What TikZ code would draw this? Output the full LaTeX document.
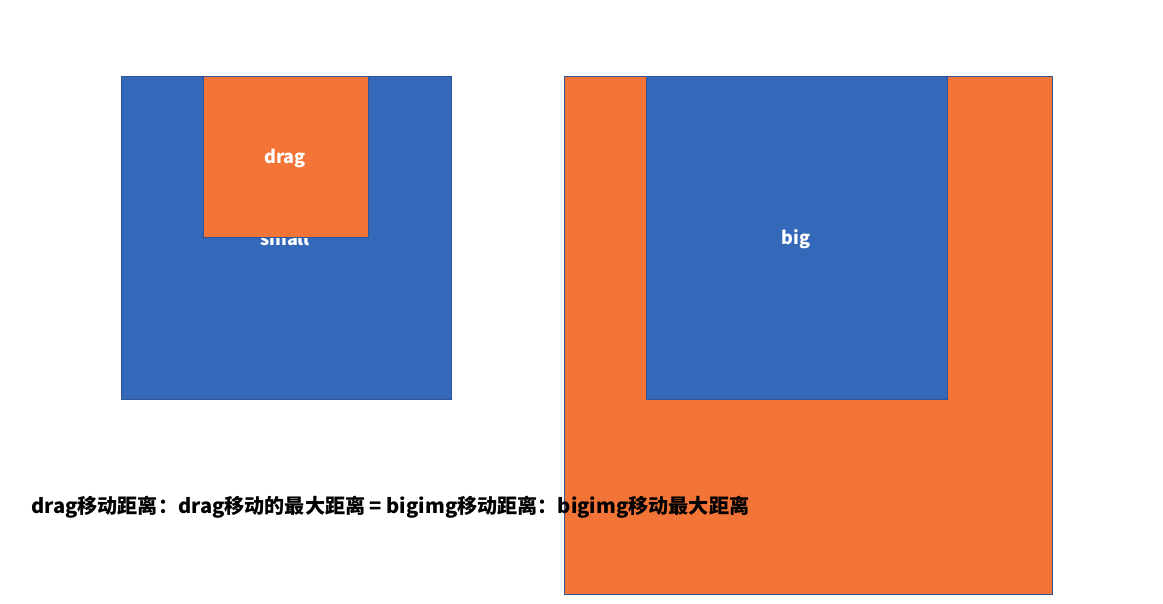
\documentclass[tikz,border=0pt]{standalone}
\usepackage{fontspec}
\newfontfamily\cjk{Noto Sans CJK SC}
\definecolor{boxblue}{HTML}{3468B9}
\definecolor{boxorange}{HTML}{F37437}
\definecolor{edgeblue}{HTML}{2F5597}
\tikzset{
  bluebox/.style={fill=boxblue, draw=edgeblue, line width=0.8pt},
  orangebox/.style={fill=boxorange, draw=edgeblue, line width=0.8pt},
  boxlabel/.style={text=white, font=\cjk\bfseries\fontsize{18}{21}\selectfont, inner sep=0pt},
  mainlabel/.style={text=black, font=\cjk\bfseries\fontsize{20.1}{24}\selectfont, inner sep=0pt, anchor=west}
}
\begin{document}
\begin{tikzpicture}[x=1pt,y=-1pt]
\useasboundingbox (0,0) rectangle (1163,603);
% left group
\path[bluebox] (121,76) rectangle (451,399);
\node[boxlabel] (small) at (285,238) {small};
\path[orangebox] (203,76) rectangle (368,237);
\node[boxlabel] (drag) at (285,158) {drag};
% right group
\path[orangebox] (564,76) rectangle (1052,594);
\path[bluebox] (646,76) rectangle (947,399);
\node[boxlabel] (big) at (796,239) {big};
% formula
\node[mainlabel] (formula) at (31,507) {drag移动距离：drag移动的最大距离 = bigimg移动距离：bigimg移动最大距离};
\end{tikzpicture}
\end{document}
